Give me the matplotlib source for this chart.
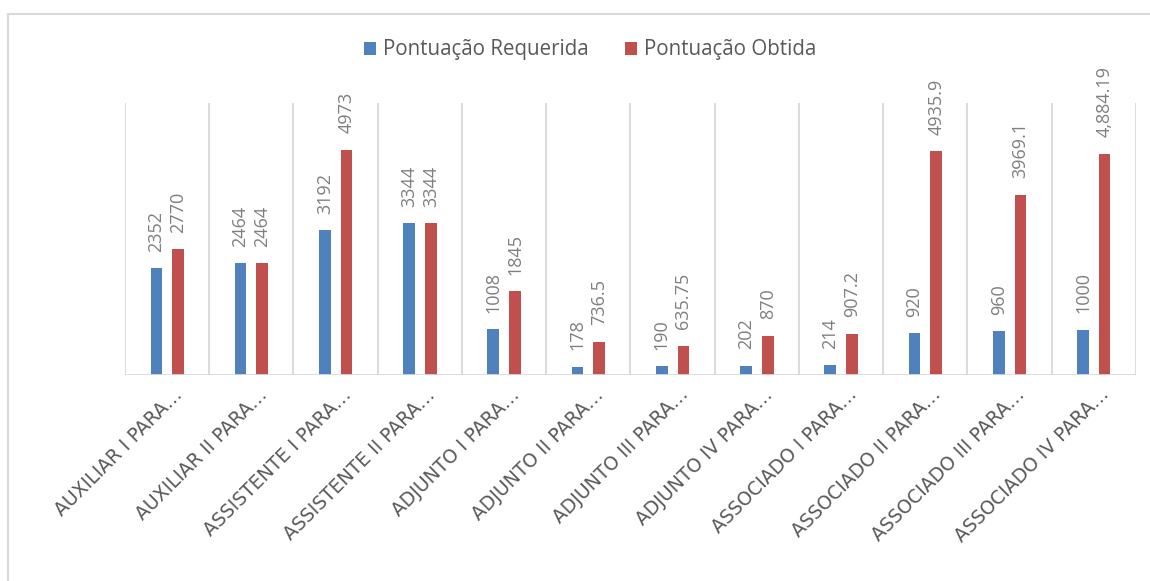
import numpy as np
import matplotlib.pyplot as plt
from matplotlib.lines import Line2D
from matplotlib.transforms import ScaledTranslation

# categorias y valores
categorias = ['AUXILIAR I PARA…', 'AUXILIAR II PARA…', 'ASSISTENTE I PARA…',
              'ASSISTENTE II PARA…', 'ADJUNTO I PARA…', 'ADJUNTO II PARA…',
              'ADJUNTO III PARA…', 'ADJUNTO IV PARA…', 'ASSOCIADO I PARA…',
              'ASSOCIADO II PARA…', 'ASSOCIADO III PARA…', 'ASSOCIADO IV PARA…']
requerida = [2352, 2464, 3192, 3344, 1008, 178, 190, 202, 214, 920, 960, 1000]
obtida = [2770, 2464, 4973, 3344, 1845, 736.5, 635.75, 870, 907.2, 4935.9, 3969.1, 4884.19]
etiquetas_req = ['2352', '2464', '3192', '3344', '1008', '178', '190', '202',
                 '214', '920', '960', '1000']
etiquetas_obt = ['2770', '2464', '4973', '3344', '1845', '736.5', '635.75', '870',
                 '907.2', '4935.9', '3969.1', '4,884.19']

azul = '#4F81BD'
rojo = '#C0504D'
gris = '#D9D9D9'

plt.rcParams['font.family'] = ['Open Sans', 'DejaVu Sans']

fig = plt.figure(figsize=(11.5, 5.81), dpi=100)
ax = fig.add_axes([0.1087, 0.3546, 0.879, 0.468])

# borde del grafico (solo arriba e izquierda quedan dentro de la imagen)
xb, yb = 7.5 / 1150, 1 - 13.5 / 581
fig.lines.append(Line2D([xb, 1.0], [yb, yb], transform=fig.transFigure,
                        color=gris, linewidth=1.5))
fig.lines.append(Line2D([xb, xb], [0, yb], transform=fig.transFigure,
                        color=gris, linewidth=1.5))

x = np.arange(len(categorias))
w = 0.138
b1 = ax.bar(x - 0.128, requerida, w, color=azul, label='Pontuação Requerida')
b2 = ax.bar(x + 0.13, obtida, w, color=rojo, label='Pontuação Obtida')

for barras, etiquetas in [(b1, etiquetas_req), (b2, etiquetas_obt)]:
    for rect, txt in zip(barras, etiquetas):
        ax.annotate(txt, (rect.get_x() + rect.get_width() / 2, rect.get_height()),
                    xytext=(0, 12), textcoords='offset points', rotation=90,
                    ha='center', va='bottom', fontsize=13, color='#7F7F7F')

ax.set_xlim(-0.5, len(categorias) - 0.5)
ax.set_ylim(0, 6000)

# lineas verticales entre categorias
for xv in np.arange(-0.5, len(categorias), 1):
    ax.axvline(xv, color=gris, linewidth=1.3, zorder=0)
ax.axhline(0, color=gris, linewidth=2, zorder=3)

for s in ax.spines.values():
    s.set_visible(False)
ax.set_yticks([])
ax.set_xticks(x)
ax.set_xticklabels(categorias, rotation=45, ha='right', va='center',
                   rotation_mode='anchor', fontsize=13.5, color='#595959',
                   family='DejaVu Sans')
ax.tick_params(axis='x', length=0, pad=12)
desplaz = ScaledTranslation(9 / 72, 0, fig.dpi_scale_trans)
for lab in ax.get_xticklabels():
    lab.set_transform(lab.get_transform() + desplaz)

ax.legend(loc='center', bbox_to_anchor=(590 / 1150, 1 - 50 / 581),
          bbox_transform=fig.transFigure, ncol=2, frameon=False,
          fontsize=14.8, labelcolor='#595959', handlelength=0.6,
          handleheight=0.6, handletextpad=0.35, columnspacing=1.75)

fig.savefig('out.png', dpi=100)
